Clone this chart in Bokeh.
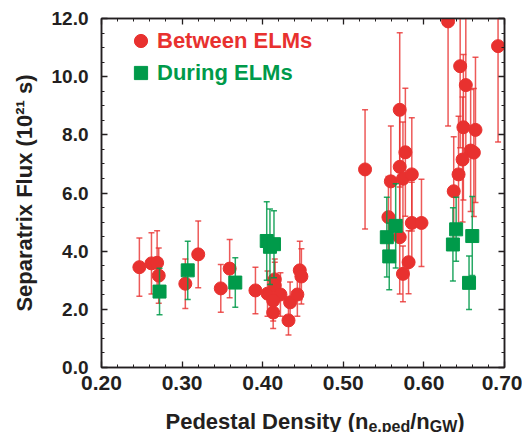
from bokeh.plotting import figure
from bokeh.layouts import column
from bokeh.models import (ColumnDataSource, FixedTicker, LinearAxis, Range1d,
                          Label, Legend, LegendItem)
from bokeh.embed import file_html
from bokeh.resources import INLINE

# ---------------- data ----------------
x_ticks = [0.2, 0.3, 0.4, 0.5, 0.6, 0.7]
x_tick_labels = ["0.20", "0.30", "0.40", "0.50", "0.60", "0.70"]
y_ticks = [0, 2, 4, 6, 8, 10, 12]
y_tick_labels = ["0.0", "2.0", "4.0", "6.0", "8.0", "10.0", "12.0"]

between_x = [0.247, 0.262, 0.269, 0.271, 0.304, 0.320, 0.348, 0.359,
             0.391, 0.406, 0.415, 0.415, 0.422, 0.413, 0.413, 0.432, 0.434, 0.443, 0.446, 0.448,
             0.527, 0.559, 0.570, 0.570, 0.574, 0.577, 0.585, 0.556, 0.585, 0.597, 0.570, 0.581, 0.574,
             0.630, 0.692, 0.645, 0.652, 0.649, 0.664, 0.658, 0.662, 0.648, 0.643, 0.637]
between_y = [3.45, 3.58, 3.60, 3.16, 2.88, 3.89, 2.72, 3.40,
             2.65, 2.54, 3.03, 2.82, 2.51, 2.30, 1.89, 1.62, 2.24, 2.51, 3.34, 3.13,
             6.81, 6.40, 8.86, 6.90, 6.49, 7.40, 6.64, 5.17, 4.97, 4.97, 4.48, 3.62, 3.22,
             11.90, 11.05, 10.36, 9.71, 8.26, 8.17, 7.46, 7.39, 7.15, 6.64, 6.06]
between_err = [1.0, 1.05, 1.1, 0.95, 0.85, 1.15, 0.82, 1.0,
               0.8, 0.78, 0.7, 0.8, 0.75, 0.7, 0.55, 0.5, 0.7, 0.75, 1.0, 0.95,
               2.05, 1.9, 2.65, 1.9, 1.95, 2.2, 1.95, 1.4, 1.4, 1.5, 1.95, 1.08, 0.96,
               3.6, 3.3, 2.8, 2.6, 2.5, 2.5, 2.1, 2.2, 2.15, 2.0, 1.87]

during_x = [0.272, 0.307, 0.366, 0.405, 0.409, 0.414, 0.554, 0.565, 0.557,
            0.640, 0.636, 0.660, 0.656]
during_y = [2.61, 3.34, 2.92, 4.35, 4.15, 4.24, 4.48, 4.87, 3.82,
            4.75, 4.23, 4.52, 2.91]
during_err = [0.8, 1.0, 0.85, 1.35, 1.3, 1.15, 1.37, 1.45, 1.15,
              1.1, 1.26, 1.36, 0.92]

# ---------------- style ----------------
RED = "#E8312F"
GREEN = "#009A4A"
INK = "#231F20"
FONT = "Liberation Sans"

red_src = ColumnDataSource(dict(
    x=between_x, y=between_y,
    lo=[v - e for v, e in zip(between_y, between_err)],
    hi=[v + e for v, e in zip(between_y, between_err)]))
green_src = ColumnDataSource(dict(
    x=during_x, y=during_y,
    lo=[v - e for v, e in zip(during_y, during_err)],
    hi=[v + e for v, e in zip(during_y, during_err)]))

p = figure(width=522, height=400, x_range=Range1d(0.2, 0.7), y_range=Range1d(0, 12),
           output_backend="svg", toolbar_location=None,
           min_border_left=101, min_border_right=18, min_border_top=18, min_border_bottom=33)
p.grid.visible = False
p.outline_line_color = INK
p.outline_line_width = 1.5
p.background_fill_color = "white"
p.border_fill_color = "white"

bottom_axis = p.below[0]
left_axis = p.left[0]

x_minor = [round(0.2 + 0.02 * i, 2) for i in range(26)]
y_minor = [0.5 * i for i in range(25)]

xt = FixedTicker(ticks=x_ticks, minor_ticks=x_minor)
yt = FixedTicker(ticks=y_ticks, minor_ticks=y_minor)

bottom_axis.ticker = xt
left_axis.ticker = yt
bottom_axis.major_label_overrides = {t: l for t, l in zip(x_ticks, x_tick_labels)}
left_axis.major_label_overrides = {t: l for t, l in zip(y_ticks, y_tick_labels)}

top_axis = LinearAxis(ticker=xt, major_label_standoff=0)
right_axis = LinearAxis(ticker=yt, major_label_standoff=0)
top_axis.major_label_overrides = {t: "" for t in x_ticks}
right_axis.major_label_overrides = {t: "" for t in y_ticks}
p.add_layout(top_axis, "above")
p.add_layout(right_axis, "right")

for ax in [bottom_axis, left_axis, top_axis, right_axis]:
    ax.axis_line_color = INK
    ax.axis_line_width = 1.5
    ax.major_tick_in = 6
    ax.major_tick_out = 0
    ax.minor_tick_in = 3
    ax.minor_tick_out = 0
    ax.major_tick_line_color = INK
    ax.minor_tick_line_color = INK
    ax.major_tick_line_width = 1.3
    ax.minor_tick_line_width = 1
    ax.major_label_text_font = FONT
    ax.major_label_text_font_style = "bold"
    ax.major_label_text_color = INK

top_axis.major_label_text_font_size = "1px"
right_axis.major_label_text_font_size = "1px"

bottom_axis.major_label_text_font_size = "21px"
bottom_axis.major_label_standoff = 8
left_axis.major_label_text_font_size = "19px"
left_axis.major_label_standoff = 13
left_axis.axis_label = "Separatrix Flux (10²¹ s)"
left_axis.axis_label_text_font = FONT
left_axis.axis_label_text_font_style = "bold"
left_axis.axis_label_text_font_size = "22px"
left_axis.axis_label_text_color = INK
left_axis.axis_label_standoff = 12

# ---------------- error bars + markers ----------------
p.segment(x0="x", y0="lo", x1="x", y1="hi", source=red_src,
          line_color=RED, line_alpha=0.8, line_width=1.5)
p.scatter(x="x", y="hi", source=red_src, marker="dash", size=6,
          line_color=RED, line_alpha=0.8, line_width=1.5)
p.scatter(x="x", y="lo", source=red_src, marker="dash", size=6,
          line_color=RED, line_alpha=0.8, line_width=1.5)
r_red = p.scatter(x="x", y="y", source=red_src, marker="circle", size=13,
                  fill_color=RED, line_color=RED)

p.segment(x0="x", y0="lo", x1="x", y1="hi", source=green_src,
          line_color=GREEN, line_alpha=0.85, line_width=1.5)
p.scatter(x="x", y="hi", source=green_src, marker="dash", size=6,
          line_color=GREEN, line_alpha=0.85, line_width=1.5)
p.scatter(x="x", y="lo", source=green_src, marker="dash", size=6,
          line_color=GREEN, line_alpha=0.85, line_width=1.5)
r_green = p.scatter(x="x", y="y", source=green_src, marker="square", size=13,
                    fill_color=GREEN, line_color=GREEN)

# ---------------- legends ----------------
def make_legend(label, rend, color, loc):
    return Legend(items=[LegendItem(label=label, renderers=[rend])], location=loc,
                  label_text_font=FONT, label_text_font_style="bold",
                  label_text_font_size="22px", label_text_color=color,
                  glyph_width=33, glyph_height=33, label_standoff=0,
                  padding=0, margin=0, spacing=0,
                  border_line_alpha=0, background_fill_alpha=0)

p.add_layout(make_legend("Between ELMs", r_red, RED, (23, 310)))
p.add_layout(make_legend("During ELMs", r_green, GREEN, (23, 278)))

# ---------------- x axis label with subscripts (separate strip) ----------------
strip = figure(width=522, height=32, output_backend="svg", toolbar_location=None,
               title=None, x_axis_type=None, y_axis_type=None, min_border=0,
               x_range=Range1d(0, 1), y_range=Range1d(0, 1))
strip.outline_line_color = None
strip.grid.visible = False

W = {'P': 667, 'e': 556, 'd': 611, 's': 556, 't': 333, 'a': 556, 'l': 278, ' ': 278,
     'D': 722, 'n': 611, 'i': 278, 'y': 556, '(': 333, ')': 333, '/': 278, ',': 278,
     'p': 611, 'G': 778, 'W': 944}
pieces = [("Pedestal Density (n", 22, 0), ("e,ped", 16, -5), ("/n", 22, 0),
          ("GW", 16, -5), (")", 22, 0)]
sx = 64.0
base = 11.0
for txt, fs, dy in pieces:
    strip.add_layout(Label(x=sx, y=base + dy, x_units="screen", y_units="screen", text=txt,
                           text_font=FONT, text_font_style="bold", text_font_size=f"{fs}px",
                           text_color=INK, text_align="left", text_baseline="alphabetic"))
    sx += sum(W.get(c, 556) for c in txt) * fs / 1000.0

layout = column(p, strip, spacing=0)
open("out.html", "w").write(file_html(layout, INLINE))
